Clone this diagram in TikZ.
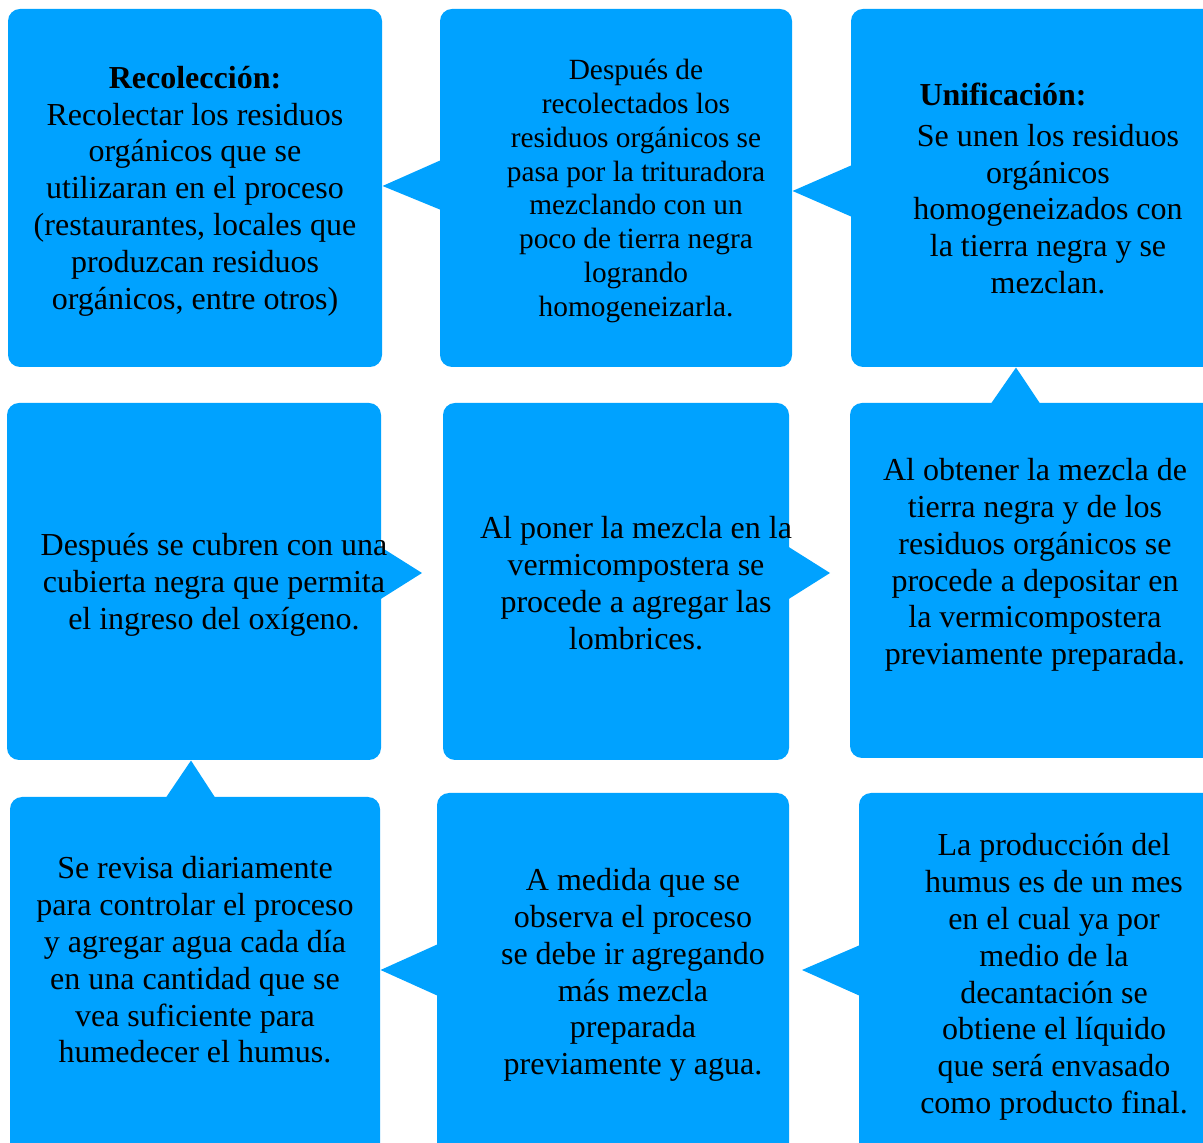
\documentclass[tikz,border=0pt]{standalone}
\usepackage{fontspec}
\setmainfont{Liberation Serif}
\usetikzlibrary{fit,calc}
\definecolor{stepblue}{HTML}{00A2FF}

\begin{document}
\begin{tikzpicture}[x=0.375pt,y=-0.375pt,
    box/.style={fill=stepblue,rounded corners=4.5pt,inner sep=0pt},
    txt/.style={align=center,font=\fontsize{12}{13.8}\selectfont},
    smalltxt/.style={align=center,font=\fontsize{11}{12.65}\selectfont}]
    \path[use as bounding box,clip] (0,0) rectangle (1203,1143);

    \node[box,fit={(8,9) (382,367)}] (b1) {};
    \node[box,fit={(440,9) (792,367)}] (b2) {};
    \node[box,fit={(851,9) (1215,367)}] (b3) {};
    \node[box,fit={(7,403) (381,760)}] (b4) {};
    \node[box,fit={(443,403) (789,760)}] (b5) {};
    \node[box,fit={(850,403) (1215,758)}] (b6) {};
    \node[box,fit={(10,797) (380,1170)}] (b7) {};
    \node[box,fit={(437,793) (789,1170)}] (b8) {};
    \node[box,fit={(859,793) (1215,1170)}] (b9) {};

    \fill[stepblue] ($(b2.west |- 0,159)+(4,0)$) -- (b1.east |- 0,186) -- ($(b2.west |- 0,211)+(4,0)$) -- cycle;
    \fill[stepblue] ($(b3.west |- 0,164)+(4,0)$) -- (b2.east |- 0,191) -- ($(b3.west |- 0,218)+(4,0)$) -- cycle;
    \fill[stepblue] ($(989,0 |- b6.north)+(0,4)$) -- (1016,0 |- b3.south) -- ($(1042,0 |- b6.north)+(0,4)$) -- cycle;
    \fill[stepblue] ($(b5.east |- 0,545)+(-4,0)$) -- (830,573) -- ($(b5.east |- 0,601)+(-4,0)$) -- cycle;
    \fill[stepblue] ($(b4.east |- 0,545)+(-4,0)$) -- (422,573) -- ($(b4.east |- 0,601)+(-4,0)$) -- cycle;
    \fill[stepblue] ($(164,0 |- b7.north)+(0,4)$) -- (191,0 |- b4.south) -- ($(217,0 |- b7.north)+(0,4)$) -- cycle;
    \fill[stepblue] ($(b8.west |- 0,943)+(4,0)$) -- (b7.east |- 0,970) -- ($(b8.west |- 0,997)+(4,0)$) -- cycle;
    \fill[stepblue] ($(b9.west |- 0,944)+(4,0)$) -- (802,970) -- ($(b9.west |- 0,997)+(4,0)$) -- cycle;

    \node[txt] (t1) at (195,191) {\textbf{Recolección:}\\Recolectar los residuos\\orgánicos que se\\utilizaran en el proceso\\(restaurantes, locales que\\produzcan residuos\\orgánicos, entre otros)};
    \node[smalltxt] (t2) at (636,191) {Después de\\recolectados los\\residuos orgánicos se\\pasa por la trituradora\\mezclando con un\\poco de tierra negra\\logrando\\homogeneizarla.};
    \node[txt,anchor=base west,inner sep=0pt] (t3h) at (919,106) {\textbf{Unificación:}};
    \node[txt] (t3) at (1048,209) {Se unen los residuos\\orgánicos\\homogeneizados con\\la tierra negra y se\\mezclan.};
    \node[txt] (t4) at (214,585) {Después se cubren con una\\cubierta negra que permita\\el ingreso del oxígeno.};
    \node[txt] (t5) at (636,583) {Al poner la mezcla en la\\vermicompostera se\\procede a agregar las\\lombrices.};
    \node[txt] (t6) at (1035,565) {Al obtener la mezcla de\\tierra negra y de los\\residuos orgánicos se\\procede a depositar en\\la vermicompostera\\previamente preparada.};
    \node[txt] (t7) at (195,960) {Se revisa diariamente\\para controlar el proceso\\y agregar agua cada día\\en una cantidad que se\\vea suficiente para\\humedecer el humus.};
    \node[txt] (t8) at (633,975) {A medida que se\\observa el proceso\\se debe ir agregando\\más mezcla\\preparada\\previamente y agua.};
    \node[txt] (t9) at (1054,977) {La producción del\\humus es de un mes\\en el cual ya por\\medio de la\\decantación se\\obtiene el líquido\\que será envasado\\como producto final.};
\end{tikzpicture}
\end{document}
